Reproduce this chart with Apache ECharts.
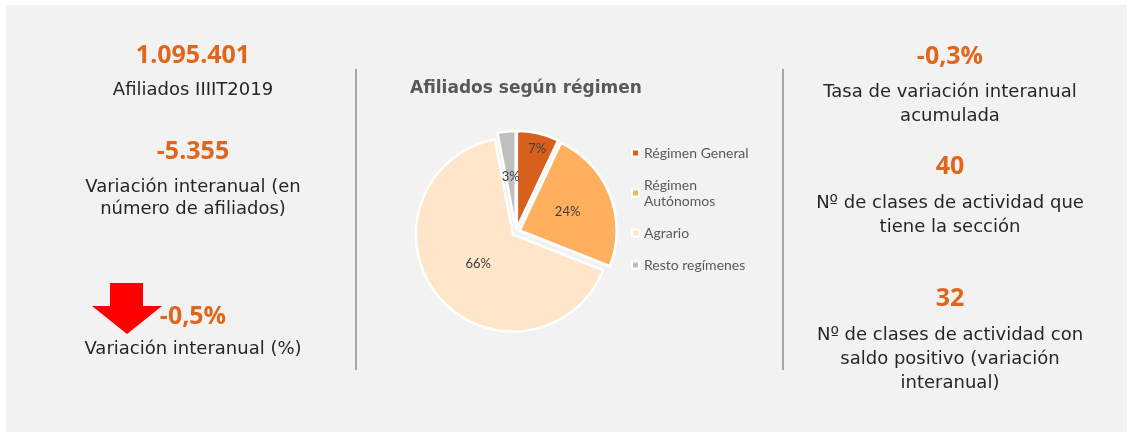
<html>
<head>
  <meta charset="utf-8">
  <title>Afiliados según régimen</title>
  <script src="https://cdn.jsdelivr.net/npm/echarts@6/dist/echarts.min.js"></script>
<style>
  body { margin: 0; background-color: white }
</style>
  <script type="text/javascript">

    // pie data
    var regimenes = ['Régimen General', 'Régimen Autónomos', 'Agrario', 'Resto regímenes'];
    var afiliadosPct = [7, 24, 66, 3];
    var sliceColors = ['#d95f1c', '#ffb05e', '#ffe5c9', '#bfbfbf'];

    // figures left and right of the pie
    var leftValues = ['1.095.401', '-5.355', '-0,5%'];
    var leftLabels = ['Afiliados IIIIT2019', 'Variación interanual (en\nnúmero de afiliados)', 'Variación interanual (%)'];
    var rightValues = ['-0,3%', '40', '32'];
    var rightLabels = ['Tasa de variación interanual\nacumulada',
                       'Nº de clases de actividad que\ntiene la sección',
                       'Nº de clases de actividad con\nsaldo positivo (variación\ninteranual)'];

    const ORANGE = '#e0661c';
    const NUM_FONT = 'bold 25px "Open Sans"';
    const TXT_FONT = '18px "DejaVu Sans"';
    // nudges for the pie's percent labels (Excel "best fit" placement)
    const labelShift = [[9, -29], [0, 0], [5, -4], [0, 0]];

    function kpiText(x, y, text, font, color, lh) {
      return {
        type: 'text', x: x, y: y, silent: true,
        style: { text: text, font: font, fill: color, textAlign: 'center',
                 textVerticalAlign: 'top', lineHeight: lh }
      };
    }

    function init() {
      var myChart = echarts.init(document.getElementById('main'), null, {renderer: 'canvas'});

      let pieData = regimenes.map((n, i) => ({
        name: n, value: afiliadosPct[i], selected: true,
        itemStyle: { color: sliceColors[i] }
      }));

      // value / label rows
      let leftY = [[41, 79], [137, 176], [302, 338]];
      let rightY = [[42, 80], [152, 191], [284, 323]];
      let gr = [
        { type: 'rect', shape: {x: 6, y: 5, width: 1121, height: 427}, style: {fill: '#f2f2f2'}, silent: true },
        { type: 'rect', shape: {x: 355, y: 69, width: 2, height: 301}, style: {fill: '#a6a6a6'}, silent: true },
        { type: 'rect', shape: {x: 782, y: 69, width: 2, height: 301}, style: {fill: '#a6a6a6'}, silent: true },
        // red down arrow
        { type: 'polygon', silent: true,
          shape: { points: [[110, 283], [143, 283], [143, 306], [162, 306], [127, 334], [92, 306], [110, 306]] },
          style: { fill: '#ff0000' } },
        { type: 'text', x: 410, y: 80, silent: true,
          style: { text: 'Afiliados según régimen', font: 'bold 17px "DejaVu Sans"', fill: '#595959' } }
      ];
      leftValues.forEach((v, i) => {
        gr.push(kpiText(193, leftY[i][0], v, NUM_FONT, ORANGE, 30));
        gr.push(kpiText(193, leftY[i][1], leftLabels[i], TXT_FONT, '#262626', 22));
      });
      rightValues.forEach((v, i) => {
        gr.push(kpiText(950, rightY[i][0], v, NUM_FONT, ORANGE, 30));
        gr.push(kpiText(950, rightY[i][1], rightLabels[i], TXT_FONT, '#262626', 24));
      });

      let option = {
        animation: false,
        backgroundColor: '#ffffff',
        graphic: gr,
        legend: {
          orient: 'vertical', left: 626, top: 140,
          itemWidth: 7, itemHeight: 7, itemGap: 16, icon: 'rect',
          selectedMode: false,
          data: regimenes,
          formatter: n => n == 'Régimen Autónomos' ? 'Régimen\nAutónomos' : n,
          textStyle: { fontFamily: 'Lato', fontSize: 14, color: '#595959', lineHeight: 16 }
        },
        series: [{
          type: 'pie',
          center: [516, 232],
          radius: 97,
          startAngle: 90,
          clockwise: true,
          selectedMode: 'multiple',
          selectedOffset: 4,
          itemStyle: { borderColor: '#ffffff', borderWidth: 2.5 },
          label: { position: 'inside', formatter: '{c}%', color: '#404040',
                   fontFamily: 'Lato', fontSize: 13 },
          labelLayout: p => ({ dx: labelShift[p.dataIndex][0], dy: labelShift[p.dataIndex][1], hideOverlap: false }),
          labelLine: { show: false },
          emphasis: { disabled: true },
          data: pieData
        }]
      };
      myChart.setOption(option);
    }
  </script>
</head>
<body onload="init();">
  <div id="main" style="width: 1132px; height: 432px;"></div>
</body>
</html>
